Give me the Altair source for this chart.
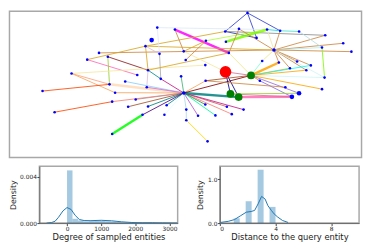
import altair as alt
import pandas as pd

# ---------------- network (positions) -------------
node_id = ['A','B','C','D','E','F','G','H','I','J','K','L','M','N','O','P','Q','R','S','T',
           'U','V','H2','W','X','Y','Z','AA','AB','AC','AD','AE','AF','RED','G1','G2','G3',
           'AG','AH','AI','AJ','AK','AL','AM','H1','AN','AO','AP','AQ','AR','AS','AT','AU',
           'AV','AW','AX','AY','AZ','BB','BC','BD','BE','BF','BG','BH','BI','BJ','BK','BL',
           'BM','BN','BO']
node_x = [250.7,228,242,260,270.7,284,303.3,330,158.7,176.7,231.7,153,208.3,228.7,146.7,185.7,161,99.3,108.3,87.3,
          187.7,207.7,277.7,348.3,326.7,356.7,265.7,282.7,294,301.3,315.3,310.7,329.3,228.3,254.3,233.3,241.7,
          263.3,289.3,326.7,303.3,296,208,183,185.7,149.3,138.3,71.3,126,162.3,148,110,115.7,
          41.7,112.7,136.7,129,149.3,168.3,54,143.7,166,188.3,188.3,200.3,207.7,218,229.7,234.7,
          246.7,112.7,210]
node_y = [6.7,26,23.3,32.7,24,25.3,26,30,22,24,48.3,35,35.7,36.7,41.3,46.7,49.3,48.3,52.3,55.3,
          55.7,61,45.3,38.3,42.7,47,56.7,58.3,64.3,57.3,61.3,66.3,74,68,71.7,91,94.3,
          77.3,84,86,90.3,94,77.3,72.7,90,66.3,71.3,69.7,78,75.3,84,81,89.7,
          88,99,96.7,104.3,104,102.7,110,112.7,112.7,107.3,118.3,113.7,102,113.3,104.3,112,
          107.3,132.7,140.3]
node_kind = ['n','n','n','n','n','n','n','n','n','n','n','m','n','n','n','n','n','n','n','n',
             'n','n','h','n','n','n','n','n','n','n','n','n','n','q','g','g','g',
             'n','n','n','m','m','n','n','h','n','n','n','n','n','n','n','n',
             'n','n','n','n','n','n','n','n','n','n','n','n','n','n','n','n',
             'n','n','n']

edge_src = ['A','A','A','B','B','E','F','I','J','N','M','C','C','F','H','W','X','Y','G','E','H2',
            'H2','H2','H2','H2','H2','H2','X','R','O','T','O','S','T','S','AP','AP','AP','AV','BC',
            'I','Q','O','O','AN','AN','AN','J','M','P','K','P',
            'H1','H1','H1','H1','H1','H1','H1','H1','H1','H1','H1','H1','BD','H1','H1','BF','BG',
            'H1','H1','H1','H1','H1','H1','H1','H1','H1',
            'RED','RED','RED','G1','G1','G1','G1','G1','G1','G1','G1','G1','AG','G3','G2','G2',
            'AL','AL']
edge_dst = ['B','D','F','D','H','F','G','E','K','E','E','K','H2','H2','H2','H2','H2','H2','X','H2','Z',
            'AA','AB','AC','AD','AE','AF','AF','H2','H2','O','B','AN','AO','AT','V','AT','AU','AT','AW',
            'Q','AR','AN','Q','AR','AS','K','P','U','RED','G1','M',
            'AT','AU','AQ','AS','AR','AM','AW','AX','AY','AZ','BB','BD','BN','BE','BF','BG','BO',
            'BH','BJ','BK','BL','BM','BI','G3','AL','G1',
            'G2','G3','G1','Z','AA','AB','AD','AE','AF','AI','AJ','AG','AK','AK','AK','AJ',
            'AH','G1']
edge_color = ['#2b3bd0','#2b3bd0','#2b3bd0','#1f2fb0','#8c8c8c','#00e5ee','#40e0d0','#dbe9f7','#ff00ff',
              '#7cfc00','#adff2f','#cd853f','#cd853f','#cd853f','#cd853f','#cd853f','#afeeee','#cd853f',
              '#b0e0e6','#eee8aa','#f0e68c',
              '#cd853f','#cd853f','#cd853f','#cd853f','#cd853f','#d0f4f4','#7cfc00','#cd853f','#daa520',
              '#daa520','#daa520','#8b1a1a','#ff69b4','#9acd32','#f5e79e','#ffa07a','#f4a460','#ff4500',
              '#ff4500',
              '#e6e6fa','#a9a9a9','#daa520','#d8bfd8','#008b8b','#d8bfd8','#daa520','#cd853f','#cd853f',
              '#f5e79e','#f0e68c','#daa520',
              '#ffdab9','#f4a460','#87cefa','#da70d6','#c71585','#3cb371','#fa8072','#bc8f8f','#a0522d',
              '#008080','#008b8b','#4b0082','#00ff00','#e0ffff','#add8e6','#add8e6','#ffd700',
              '#ba55d3','#00fa9a','#cd5c5c','#fa8072','#c71585','#2e8b57','#008080','#f4a460','#800000',
              '#00008b','#00008b','#db7093','#7fffd4','#ffa500','#ffa500','#00ffff','#ffa500','#d0f4f4',
              '#ffa500','#9370db','#cd853f','#7b68ee','#ff69b4','#db7093','#9acd32',
              '#cd853f','#a0522d']
edge_bold = [0,0,0,0,0,0,0,0,1,1,0,0,0,0,0,0,0,0,0,0,0,
             0,0,0,0,0,0,0,0,0,0,0,0,0,0,0,0,0,0,0,
             0,0,0,0,0,0,0,0,0,0,0,0,
             1,0,0,0,0,0,0,0,0,0,0,0,1,0,0,0,0,
             0,0,0,0,0,0,1,0,0,
             0,0,0,0,1,0,0,0,0,0,0,0,0,1,0,0,
             0,0]

# ---------------- histograms -------------
deg_edges = [0,160,320,480,640,800,960,1120,1280,1440,1600,1760,1920,2080,2240,2400,2560,2720,2880,3040]
deg_heights = [0.00454,0.00037,0.00023,0.00015,0.00017,0.00018,0.00018,0.00016,0.00013,0.00008,
               0.00005,0.00003,0.00002,0.00002,0.00003,0.00003,0.00001,0.00002,0.00002]
deg_kde_x = [-600,-450,-350,-250,-120,0,120,240,360,500,700,1000,1300,1600,1900,2200,2500,2800,3100,3300]
deg_kde_y = [0.0,0.00005,0.00016,0.0005,0.00105,0.00134,0.00117,0.00066,0.00031,0.00022,0.00021,
             0.00024,0.0002,0.00011,0.00005,0.00003,0.00003,0.00002,0.00001,0.00001]

dist_edges = [1.0,1.4286,1.8571,2.2857,2.7143,3.1429,3.5714,4.0]
dist_heights = [0.11,0.0,0.5,0.0,1.22,0.0,0.37]
dist_kde_x = [0.05,0.6,1.05,1.5,1.9,2.25,2.5,2.75,3.0,3.25,3.45,3.7,3.9,4.15,4.5,4.9]
dist_kde_y = [0.015,0.04,0.08,0.17,0.25,0.265,0.29,0.44,0.61,0.55,0.40,0.29,0.21,0.14,0.06,0.015]

# ---------------- build tables -------------
pos = {n: (x, y) for n, x, y in zip(node_id, node_x, node_y)}
kind_size = {'n': 7, 'm': 22, 'h': 13, 'q': 140, 'g': 62}
kind_color = {'n': '#0000ff', 'm': '#0000ff', 'h': '#0000ff', 'q': '#ff0000', 'g': '#008000'}
ndf = pd.DataFrame({'x': node_x, 'y': node_y, 'kind': node_kind})
ndf['sz'] = ndf['kind'].map(kind_size)
ndf['col'] = ndf['kind'].map(kind_color)
ndf['order'] = ndf['kind'].map({'n': 0, 'm': 1, 'h': 1, 'g': 2, 'q': 3})
ndf = ndf.sort_values('order')

edf = pd.DataFrame({
    'x': [pos[s][0] for s in edge_src], 'y': [pos[s][1] for s in edge_src],
    'x2': [pos[d][0] for d in edge_dst], 'y2': [pos[d][1] for d in edge_dst],
    'color': edge_color, 'w': [2.5 if b else 1.0 for b in edge_bold]})

# the network panel's plot origin is aligned with the lower-left plot;
# its frame and marks extend to the left of that origin
ORIGIN = 38.5
TOPW = 367 - ORIGIN
xs = alt.Scale(domain=[ORIGIN, 367], nice=False, zero=False)
ys = alt.Scale(domain=[5, 157], reverse=True, nice=False, zero=False)

frame = alt.Chart(pd.DataFrame({'k': [0]})).mark_rect(
    fill=None, fillOpacity=0, stroke='#a8a8a8', strokeWidth=1.5).encode(
    x=alt.value(8 - ORIGIN), x2=alt.value(TOPW), y=alt.value(0), y2=alt.value(149))
edges_layer = alt.Chart(edf).mark_rule(opacity=0.85, clip=False).encode(
    x=alt.X('x:Q', scale=xs, axis=None), y=alt.Y('y:Q', scale=ys, axis=None),
    x2='x2:Q', y2='y2:Q',
    color=alt.Color('color:N', scale=None),
    strokeWidth=alt.StrokeWidth('w:Q', scale=None))
nodes_layer = alt.Chart(ndf).mark_circle(opacity=1, clip=False).encode(
    x=alt.X('x:Q', scale=xs, axis=None), y=alt.Y('y:Q', scale=ys, axis=None),
    color=alt.Color('col:N', scale=None),
    size=alt.Size('sz:Q', scale=None))
top = alt.layer(frame, edges_layer, nodes_layer).properties(
    width=TOPW, height=149, view=alt.ViewBackground(strokeWidth=0, strokeOpacity=0))

blue = '#1f77b4'

# left histogram
lb = pd.DataFrame({'x0': deg_edges[:-1], 'x1': deg_edges[1:], 'h': deg_heights, 'z': 0.0})
lk = pd.DataFrame({'x': deg_kde_x, 'y': deg_kde_y})
lxs = alt.Scale(domain=[-810, 3240], nice=False, zero=False)
lys = alt.Scale(domain=[0, 0.0049], nice=False)
lx_axis = alt.Axis(values=[0, 1000, 2000, 3000], format='d', title='Degree of sampled entities')
ly_axis = alt.Axis(values=[0, 0.002, 0.004], format='.3f', title='Density',
                   titleAngle=270, titleBaseline='bottom', titleX=-22.5, titleFontSize=8)
lbars = alt.Chart(lb).mark_rect(color=blue, opacity=0.4).encode(
    x=alt.X('x0:Q', scale=lxs, axis=lx_axis), x2='x1:Q',
    y=alt.Y('h:Q', scale=lys, axis=ly_axis), y2='z:Q')
lline = alt.Chart(lk).mark_line(color=blue, strokeWidth=1, clip=True).encode(
    x=alt.X('x:Q', scale=lxs), y=alt.Y('y:Q', scale=lys))
left = alt.layer(lbars, lline).properties(width=141, height=58)

# right histogram
rb = pd.DataFrame({'x0': dist_edges[:-1], 'x1': dist_edges[1:], 'h': dist_heights, 'z': 0.0})
rb = rb[rb['h'] > 0]
rk = pd.DataFrame({'x': dist_kde_x, 'y': dist_kde_y})
rxs = alt.Scale(domain=[0, 10], nice=False, zero=False)
rys = alt.Scale(domain=[0, 1.3], nice=False)
rx_axis = alt.Axis(values=[0, 2, 4, 6, 8, 10], format='d', title='Distance to the query entity')
ry_axis = alt.Axis(values=[0, 0.5, 1.0], format='.1f', title='Density',
                   titleAngle=270, titleBaseline='bottom', titleX=-15.5, titleFontSize=8)
rbars = alt.Chart(rb).mark_rect(color=blue, opacity=0.4).encode(
    x=alt.X('x0:Q', scale=rxs, axis=rx_axis), x2='x1:Q',
    y=alt.Y('h:Q', scale=rys, axis=ry_axis), y2='z:Q')
rline = alt.Chart(rk).mark_line(color=blue, strokeWidth=1, clip=True).encode(
    x=alt.X('x:Q', scale=rxs), y=alt.Y('y:Q', scale=rys))
right = alt.layer(rbars, rline).properties(width=142, height=58)

bottom = alt.hconcat(left, right, spacing=17)
chart = alt.vconcat(top, bottom, spacing=7).properties(padding=0).configure_view(
    stroke='#a8a8a8', strokeWidth=1.5
).configure_axis(
    labelFont='DejaVu Sans', titleFont='DejaVu Sans', labelFontSize=6, titleFontSize=8.5,
    titleFontWeight='normal', labelColor='#222222', titleColor='#222222', grid=False,
    tickSize=2.5, tickColor='#444444', labelPadding=0.5, titlePadding=1,
    domainColor='#666666', domainWidth=1, minExtent=0
)

chart.save("out.html", embed_options={"renderer": "svg", "actions": False})
